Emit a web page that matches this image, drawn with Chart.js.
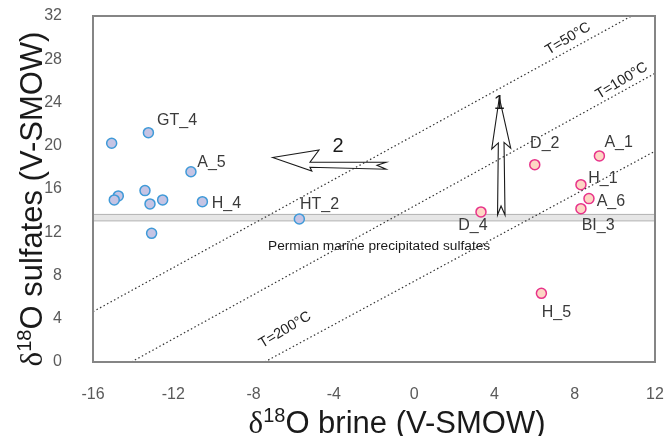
<!DOCTYPE html>
<html>
<head>
<meta charset="utf-8">
<script src="https://cdn.jsdelivr.net/npm/chart.js@4.4.1/dist/chart.umd.min.js"></script>
<style>
  body { margin: 0; background: #fff; }
  #wrap { width: 669px; height: 436px; }
</style>
</head>
<body>
<div id="wrap"><canvas id="chart"></canvas></div>
<script>
/* DATA */
const brineBlue = [-15.07, -13.24, -11.12, -14.74, -14.94, -13.41, -13.16, -12.53, -10.55, -13.08, -5.72];
const sulfBlue  = [20.23, 21.21, 17.60, 15.36, 14.99, 15.85, 14.62, 14.99, 14.83, 11.90, 13.23];
const namesBlue = ["", "GT_4", "A_5", "", "", "", "", "", "H_4", "", "HT_2"];

const brinePink = [3.33, 6.01, 9.23, 8.31, 8.71, 8.31, 6.34];
const sulfPink  = [13.88, 18.25, 19.06, 16.40, 15.11, 14.18, 6.35];
const namesPink = ["D_4", "D_2", "A_1", "H_1", "A_6", "BI_3", "H_5"];

/* isotherms: start / end points */
const isoNames = ["T=50°C", "T=100°C", "T=200°C"];
const isoStart = [[-16, 4.65], [-14.09, 0], [-7.45, 0]];
const isoEnd   = [[10.83, 32], [12, 26.7], [12, 19.5]];
const isoLabelAt = [[7.67, 29.9], [10.34, 26.0], [-6.43, 2.96]];

/* marine sulfate band (y range) */
const marineBand = [13.05, 13.65];
const marineText = "Permian marine precipitated sulfates";
const marineTextAt = [-7.28, 10.67];

/* arrows (outline polygons in data units) */
const arrow1 = [[4.244, 24.45], [4.812, 19.77], [4.478, 20.31], [4.528, 13.60], [4.33, 14.43],
                [4.155, 13.60], [4.195, 20.26], [3.866, 19.70]];
const arrow2 = [[-7.05, 18.92], [-4.74, 19.61], [-5.19, 18.47], [-1.40, 18.47], [-1.85, 18.20],
                [-1.40, 17.83], [-5.19, 18.01], [-5.10, 17.67]];
const arrowNames = ["1", "2"];
const arrowLabelAt = [[4.24, 23.9], [-3.79, 19.89]];

const xTicks = [-16, -12, -8, -4, 0, 4, 8, 12];
const yTicks = [0, 4, 8, 12, 16, 20, 24, 28, 32];

/* label placement in px: [dx, dy] from the point, left aligned */
const labelPos = {
  GT_4: [8.7, -12], A_5: [6.3, -9.4], H_4: [9.4, 1.6], HT_2: [0.7, -14.7],
  D_4: [-22.7, 13.7], D_2: [-4.7, -20.7], A_1: [5, -13.7], H_1: [7.3, -5.7],
  A_6: [7.7, 3.3], BI_3: [0.7, 17], H_5: [0.4, 19]
};

const FONT = "'Liberation Sans', Arial, sans-serif";

function toXY(xs, ys) {
  return xs.map((v, i) => ({ x: v, y: ys[i] }));
}

/* axis title with superscript 18 */
function deltaTitle(ctx, cx, baseY, rest, size) {
  const big = size + "px " + FONT;
  const small = Math.round(size * 0.64) + "px " + FONT;
  const serif = size + "px 'Liberation Serif', 'Times New Roman', serif";
  ctx.font = serif; const w1 = ctx.measureText("δ").width;
  ctx.font = small; const w2 = ctx.measureText("18").width;
  ctx.font = big; const w3 = ctx.measureText(rest).width;
  let x0 = cx - (w1 + w2 + w3) / 2;
  ctx.textAlign = "left";
  ctx.textBaseline = "alphabetic";
  ctx.font = serif; ctx.fillText("δ", x0, baseY);
  ctx.font = small; ctx.fillText("18", x0 + w1, baseY - size * 0.36);
  ctx.font = big; ctx.fillText(rest, x0 + w1 + w2, baseY);
}

// no automatic label overflow padding, the frame is placed by layout.padding
function noPad(s) {
  s.paddingTop = 0; s.paddingBottom = 0; s.paddingLeft = 0; s.paddingRight = 0;
}

const annotPlugin = {
  id: "annot",
  beforeDatasetsDraw(chart) {
    const { ctx, chartArea: a, scales: { x, y } } = chart;
    const yt = y.getPixelForValue(marineBand[1]);
    const yb = y.getPixelForValue(marineBand[0]);
    ctx.save();
    ctx.fillStyle = "#e6e6e6";
    ctx.strokeStyle = "#b4b4b4";
    ctx.lineWidth = 1;
    ctx.fillRect(a.left, yt, a.right - a.left, yb - yt);
    ctx.strokeRect(a.left, yt, a.right - a.left, yb - yt);
    ctx.restore();
  },
  afterDatasetsDraw(chart) {
    const { ctx, chartArea: a, scales: { x, y } } = chart;
    ctx.save();

    // arrows
    ctx.strokeStyle = "#1a1a1a";
    ctx.lineWidth = 1.1;
    ctx.lineJoin = "miter";
    [arrow1, arrow2].forEach(poly => {
      ctx.beginPath();
      poly.forEach((p, i) => {
        const px = x.getPixelForValue(p[0]), py = y.getPixelForValue(p[1]);
        i ? ctx.lineTo(px, py) : ctx.moveTo(px, py);
      });
      ctx.closePath();
      ctx.stroke();
    });
    ctx.fillStyle = "#1a1a1a";
    ctx.font = "20px " + FONT;
    ctx.textAlign = "center";
    ctx.textBaseline = "middle";
    arrowNames.forEach((n, i) => {
      ctx.fillText(n, x.getPixelForValue(arrowLabelAt[i][0]), y.getPixelForValue(arrowLabelAt[i][1]));
    });

    // isotherm labels
    ctx.font = "14.5px " + FONT;
    ctx.fillStyle = "#222";
    isoNames.forEach((n, i) => {
      const ang = Math.atan2(
        y.getPixelForValue(isoEnd[i][1]) - y.getPixelForValue(isoStart[i][1]),
        x.getPixelForValue(isoEnd[i][0]) - x.getPixelForValue(isoStart[i][0]));
      ctx.save();
      ctx.translate(x.getPixelForValue(isoLabelAt[i][0]), y.getPixelForValue(isoLabelAt[i][1]));
      ctx.rotate(ang - 0.04);
      ctx.fillText(n, 0, 0);
      ctx.restore();
    });

    // marine text
    ctx.font = "13.7px " + FONT;
    ctx.textAlign = "left";
    ctx.fillStyle = "#1a1a1a";
    ctx.fillText(marineText, x.getPixelForValue(marineTextAt[0]), y.getPixelForValue(marineTextAt[1]));

    // point labels
    ctx.font = "16px " + FONT;
    ctx.fillStyle = "#3a3a3a";
    const put = (xs, ys, names) => names.forEach((n, i) => {
      if (!n) return;
      const off = labelPos[n];
      ctx.fillText(n, x.getPixelForValue(xs[i]) + off[0], y.getPixelForValue(ys[i]) + off[1]);
    });
    put(brineBlue, sulfBlue, namesBlue);
    put(brinePink, sulfPink, namesPink);

    // frame
    ctx.strokeStyle = "#858585";
    ctx.lineWidth = 2;
    ctx.strokeRect(a.left, a.top, a.right - a.left, a.bottom - a.top);

    // axis titles
    ctx.fillStyle = "#1a1a1a";
    deltaTitle(ctx, 397, 433, "O brine (V-SMOW)", 31);
    ctx.save();
    ctx.translate(42, 199);
    ctx.rotate(-Math.PI / 2);
    deltaTitle(ctx, 0, 0, "O sulfates (V-SMOW)", 31);
    ctx.restore();

    ctx.restore();
  }
};

const isoSets = isoNames.map((n, i) => ({
  label: n,
  data: [{ x: isoStart[i][0], y: isoStart[i][1] }, { x: isoEnd[i][0], y: isoEnd[i][1] }],
  showLine: true,
  borderColor: "#333",
  borderWidth: 1.2,
  borderDash: [1.5, 2.5],
  pointRadius: 0,
  fill: false
}));

new Chart(document.getElementById("chart"), {
  type: "scatter",
  data: {
    datasets: [
      ...isoSets,
      {
        label: "blue",
        data: toXY(brineBlue, sulfBlue),
        backgroundColor: "#c5c4e4",
        borderColor: "#3f9ad8",
        borderWidth: 1.5,
        pointRadius: 5
      },
      {
        label: "pink",
        data: toXY(brinePink, sulfPink),
        backgroundColor: "#fdd6c4",
        borderColor: "#e8338a",
        borderWidth: 1.5,
        pointRadius: 5
      }
    ]
  },
  options: {
    responsive: true,
    maintainAspectRatio: false,
    animation: false,
    layout: { padding: { top: 16, right: 14, left: 0, bottom: 0 } },
    plugins: { legend: { display: false }, tooltip: { enabled: false } },
    scales: {
      x: {
        type: "linear",
        min: -16, max: 12,
        afterBuildTicks: s => { s.ticks = xTicks.map(v => ({ value: v })); },
        afterFit: s => { s.height = 74; noPad(s); },
        grid: { display: false, drawTicks: false },
        border: { display: false },
        ticks: { color: "#5a5a5a", font: { family: FONT, size: 16 }, padding: 23, maxRotation: 0 }
      },
      y: {
        min: 0, max: 32,
        afterBuildTicks: s => { s.ticks = yTicks.map(v => ({ value: v })); },
        afterFit: s => { s.width = 93; noPad(s); },
        grid: { display: false, drawTicks: false },
        border: { display: false },
        ticks: { color: "#5a5a5a", font: { family: FONT, size: 16 }, padding: 31 }
      }
    }
  },
  plugins: [annotPlugin]
});
</script>
</body>
</html>
